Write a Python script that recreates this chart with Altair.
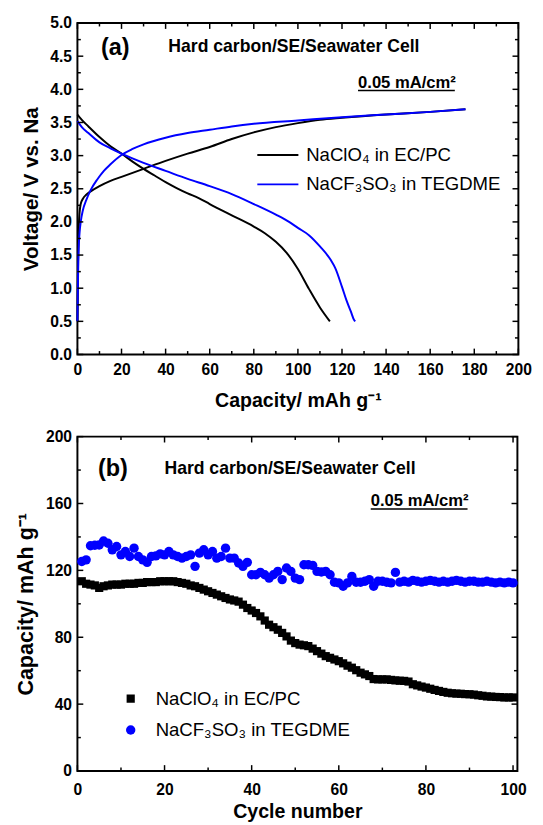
import altair as alt
import pandas as pd

FONT = "Liberation Sans"
BLUE = "#0000FF"
SERIES = ["NaClO₄ in EC/PC", "NaCF₃SO₃ in TEGDME"]
CELL_LABEL = "Hard carbon/SE/Seawater Cell"
RATE_LABEL = "0.05 mA/cm²"
NB = "\u00a0"

# ---------------- panel (a): voltage profiles ----------------
black_dis_cap = [0, 2, 5, 10, 15, 20, 25, 30, 35, 40, 45, 50, 55, 60, 70, 80, 85, 90, 95, 100, 105, 110, 114.5]
black_dis_v = [3.62, 3.54, 3.44, 3.28, 3.14, 3.03, 2.91, 2.80, 2.70, 2.60, 2.51, 2.43, 2.36, 2.27, 2.10, 1.93, 1.83, 1.70, 1.53, 1.29, 0.99, 0.71, 0.50]

blue_dis_cap = [0, 2, 5, 10, 15, 20, 30, 40, 50, 60, 70, 80, 90, 96, 100, 105, 110, 115, 117, 120, 122, 124, 125.5, 126]
blue_dis_v = [3.52, 3.43, 3.34, 3.20, 3.11, 3.03, 2.89, 2.77, 2.65, 2.54, 2.42, 2.27, 2.11, 2.00, 1.91, 1.80, 1.63, 1.42, 1.30, 1.02, 0.82, 0.65, 0.52, 0.50]

black_chg_cap = [0, 0.3, 0.6, 1.0, 1.5, 2.5, 4, 6, 10, 15, 20, 30, 40, 50, 60, 70, 80, 90, 100, 110, 120, 140, 160, 176]
black_chg_v = [0.50, 1.40, 1.90, 2.15, 2.27, 2.35, 2.41, 2.46, 2.54, 2.62, 2.68, 2.80, 2.92, 3.03, 3.13, 3.25, 3.35, 3.43, 3.49, 3.54, 3.57, 3.62, 3.66, 3.70]

blue_chg_cap = [0, 0.2, 0.4, 0.7, 1.0, 1.5, 2.5, 4, 6, 9, 12, 15, 20, 25, 30, 40, 50, 60, 70, 80, 100, 120, 140, 160, 176]
blue_chg_v = [0.50, 1.00, 1.40, 1.70, 1.85, 2.00, 2.18, 2.33, 2.48, 2.64, 2.77, 2.87, 3.01, 3.10, 3.17, 3.27, 3.34, 3.39, 3.44, 3.48, 3.53, 3.58, 3.62, 3.66, 3.70]

xa_major = [0, 20, 40, 60, 80, 100, 120, 140, 160, 180, 200]
xa_minor = [10, 30, 50, 70, 90, 110, 130, 150, 170, 190]
ya_major = [0.0, 0.5, 1.0, 1.5, 2.0, 2.5, 3.0, 3.5, 4.0, 4.5, 5.0]
ya_minor = [0.25, 0.75, 1.25, 1.75, 2.25, 2.75, 3.25, 3.75, 4.25, 4.75]

# ---------------- panel (b): cycling ----------------
cycles = list(range(1, 101))
black_cap = [113.5, 112, 111.5, 111, 109.5, 110.5, 111, 111.5, 111.5, 111.5,
             112, 112, 112, 112.5, 112.5, 113, 113, 113, 113.5, 113.5,
             113.5, 113.5, 113, 112.5, 112, 111, 110.5, 109.5, 108.5, 107.5,
             106.5, 105.5, 104.5, 103.5, 102.6, 102, 101.3, 99.5, 97.5, 96,
             94.5, 92.5, 90, 87.5, 86, 84.5, 82.6, 80.5, 78, 76.5,
             75.6, 75.2, 74.7, 73.2, 71.7, 70.2, 68.7, 67.7, 66.7, 65.7,
             64.4, 63, 61.8, 60.3, 58.8, 57.8, 56.8, 55, 54.8, 54.8,
             54.8, 54.5, 54.2, 54, 53.9, 53.5, 51.9, 51.2, 50.5, 49.9,
             49.2, 48.5, 47.9, 47.3, 46.8, 46.5, 46.3, 46.2, 46, 45.9,
             45.7, 45.3, 45, 44.6, 44.5, 44.3, 44.2, 44, 44, 44]
blue_cap = [125.3, 126.3, 134.7, 135, 135.2, 137.6, 136.2, 132.3, 134.3, 129.3,
            131.3, 128.3, 133.3, 128.3, 126.3, 124.8, 128.3, 128.7, 129.9, 129.3,
            131.3, 129.3, 128.3, 127.3, 128.3, 129.3, 122.4, 130.3, 132.3, 129.3,
            131.3, 127.3, 128.3, 133.3, 127.3, 127.3, 124.4, 122.4, 124.8, 117.4,
            117.4, 118.8, 117.4, 115.4, 117.4, 119.4, 114.5, 121.4, 119.4, 115.4,
            114.5, 123.4, 123.4, 123.0, 119.4, 119.0, 119.4, 117.4, 112.9, 112.5,
            110.5, 112.5, 116.4, 112.9, 112.9, 113.5, 114.5, 110.5, 113.5, 113.5,
            112.9, 112.5, 118.8, 113.0, 113.5, 113.0, 114.0, 113.5, 113.0, 113.5,
            114.0, 113.5, 113.0, 113.5, 113.0, 113.5, 114.0, 113.5, 113.0, 113.5,
            113.5, 113.0, 113.0, 113.5, 113.0, 112.5, 113.0, 112.5, 113.0, 112.5]

xb_major = [0, 20, 40, 60, 80, 100]
xb_minor = [10, 30, 50, 70, 90]
yb_major = [0, 40, 80, 120, 160, 200]
yb_minor = [20, 60, 100, 140, 180]

W_A, H_A = 451, 339
W_B, H_B = 450, 342
XDOM_A, YDOM_A = [0, 200], [0, 5]
XDOM_B, YDOM_B = [0, 101], [0, 200]
MAJ, MIN = 6, 3.5


def curve(series, branch, caps, volts):
    return pd.DataFrame({"series": series, "branch": branch, "cap": caps,
                         "v": volts, "idx": list(range(len(caps)))})


df_a = pd.concat([
    curve(SERIES[0], "b_dis", black_dis_cap, black_dis_v),
    curve(SERIES[0], "b_chg", black_chg_cap, black_chg_v),
    curve(SERIES[1], "u_dis", blue_dis_cap, blue_dis_v),
    curve(SERIES[1], "u_chg", blue_chg_cap, blue_chg_v),
], ignore_index=True)

df_b = pd.concat([
    pd.DataFrame({"series": SERIES[0], "cycle": cycles, "cap": black_cap}),
    pd.DataFrame({"series": SERIES[1], "cycle": cycles, "cap": blue_cap}),
], ignore_index=True)


def xaxis(values, fmt, title, lpad, tpad):
    return alt.Axis(orient="bottom", values=values, format=fmt, ticks=False,
                    domain=False, grid=False, labelFlush=False, labelOverlap=False,
                    labelPadding=lpad, title=title, titlePadding=tpad)


def yaxis(values, fmt, title, lpad, tpad, tsize):
    return alt.Axis(orient="left", values=values, format=fmt, ticks=False,
                    domain=False, grid=False, labelFlush=False, labelOverlap=False,
                    labelPadding=lpad, title=title, titlePadding=tpad,
                    titleFontSize=tsize)


def inward_ticks(xscale, yscale, xax, yax, W, H, xmaj, xmin, ymaj, ymin):
    """Inward-pointing ticks on all four edges, placed through the shared scales."""
    layers = []
    for vals, ln in [(xmaj, MAJ), (xmin, MIN)]:
        base = alt.Chart(pd.DataFrame({"t": vals})).mark_rule(color="black", strokeWidth=1.5)
        xenc = alt.X("t:Q", scale=xscale, axis=xax)
        layers.append(base.encode(x=xenc, y=alt.value(H), y2=alt.value(H - ln)))
        layers.append(base.encode(x=xenc, y=alt.value(0), y2=alt.value(ln)))
    for vals, ln in [(ymaj, MAJ), (ymin, MIN)]:
        base = alt.Chart(pd.DataFrame({"t": vals})).mark_rule(color="black", strokeWidth=1.5)
        yenc = alt.Y("t:Q", scale=yscale, axis=yax)
        layers.append(base.encode(y=yenc, x=alt.value(0), x2=alt.value(ln)))
        layers.append(base.encode(y=yenc, x=alt.value(W), x2=alt.value(W - ln)))
    return layers


def label(text, x, y, size, weight="bold"):
    return alt.Chart(pd.DataFrame({"t": [text]})).mark_text(
        align="left", baseline="middle", font=FONT, fontSize=size,
        fontWeight=weight, color="black"
    ).encode(text="t:N", x=alt.value(x), y=alt.value(y))


def underline(x1, x2, y):
    return alt.Chart(pd.DataFrame({"t": [0]})).mark_rule(
        color="black", strokeWidth=1.5
    ).encode(x=alt.value(x1), x2=alt.value(x2), y=alt.value(y))


# ---- panel a ----
xs_a = alt.Scale(domain=XDOM_A, nice=False, zero=False)
ys_a = alt.Scale(domain=YDOM_A, nice=False, zero=False)
xax_a = xaxis(xa_major, "d", "Capacity/ mAh g⁻¹", 7, 14)
yax_a = yaxis(ya_major, ".1f", "Voltage/ V vs. Na" + NB * 3, 6, 9, 21)

leg_a = alt.Legend(orient="none", legendX=183, legendY=120, title=None,
                   symbolType="stroke", symbolSize=1764, symbolStrokeWidth=2,
                   clipHeight=30, rowPadding=0, labelOffset=7, padding=0,
                   labelFontSize=19, labelFont=FONT, labelColor="black",
                   labelLimit=400)

lines_a = alt.Chart(df_a).mark_line(strokeWidth=2, interpolate="monotone").encode(
    x=alt.X("cap:Q", scale=xs_a, axis=xax_a),
    y=alt.Y("v:Q", scale=ys_a, axis=yax_a),
    color=alt.Color("series:N", scale=alt.Scale(domain=SERIES, range=["black", BLUE]),
                    legend=leg_a),
    detail="branch:N",
    order="idx:Q",
)

panel_a = alt.layer(
    lines_a,
    *inward_ticks(xs_a, ys_a, xax_a, yax_a, W_A, H_A, xa_major, xa_minor, ya_major, ya_minor),
    label("(a)", 24, 26, 24),
    label(CELL_LABEL, 93, 25, 18),
    label(RATE_LABEL, 287, 61, 17),
    underline(287, 386, 69),
).properties(width=W_A, height=H_A)

# ---- panel b ----
xs_b = alt.Scale(domain=XDOM_B, nice=False, zero=False)
ys_b = alt.Scale(domain=YDOM_B, nice=False, zero=False)
xax_b = xaxis(xb_major, "d", "Cycle number", 11, 5)
yax_b = yaxis(yb_major, "d", "Capacity/ mAh g⁻¹" + NB * 4, 6, 8, 22)

leg_b = alt.Legend(orient="none", legendX=45, legendY=252, title=None,
                   clipHeight=32, rowPadding=0, labelOffset=16, padding=0,
                   labelFontSize=19, labelFont=FONT, labelColor="black",
                   labelLimit=400)

pts_b = alt.Chart(df_b).mark_point(filled=True, opacity=1, strokeWidth=0).encode(
    x=alt.X("cycle:Q", scale=xs_b, axis=xax_b),
    y=alt.Y("cap:Q", scale=ys_b, axis=yax_b),
    color=alt.Color("series:N", scale=alt.Scale(domain=SERIES, range=["black", BLUE]),
                    legend=leg_b),
    shape=alt.Shape("series:N", scale=alt.Scale(domain=SERIES, range=["square", "circle"]),
                    legend=leg_b),
    size=alt.Size("series:N", scale=alt.Scale(domain=SERIES, range=[70, 92]),
                  legend=leg_b),
)

panel_b = alt.layer(
    pts_b,
    *inward_ticks(xs_b, ys_b, xax_b, yax_b, W_B, H_B, xb_major, xb_minor, yb_major, yb_minor),
    label("(b)", 21, 33, 24),
    label(CELL_LABEL, 89, 33, 18),
    label(RATE_LABEL, 300, 66, 17),
    underline(300, 399, 74),
).properties(width=W_B, height=H_B)

chart = alt.vconcat(panel_a, panel_b, spacing=17).resolve_scale(
    color="independent", shape="independent", size="independent"
).properties(
    padding={"left": 6, "top": -3, "right": 2, "bottom": 0}
).configure_view(
    stroke="black", strokeWidth=2
).configure_axis(
    labelFont=FONT, labelFontSize=16, labelFontWeight="bold", labelColor="black",
    titleFont=FONT, titleFontSize=20, titleFontWeight="bold", titleColor="black"
).configure_legend(
    labelFont=FONT, labelFontSize=19, labelColor="black"
)

chart.save("out.html", embed_options={"renderer": "svg", "actions": False})
